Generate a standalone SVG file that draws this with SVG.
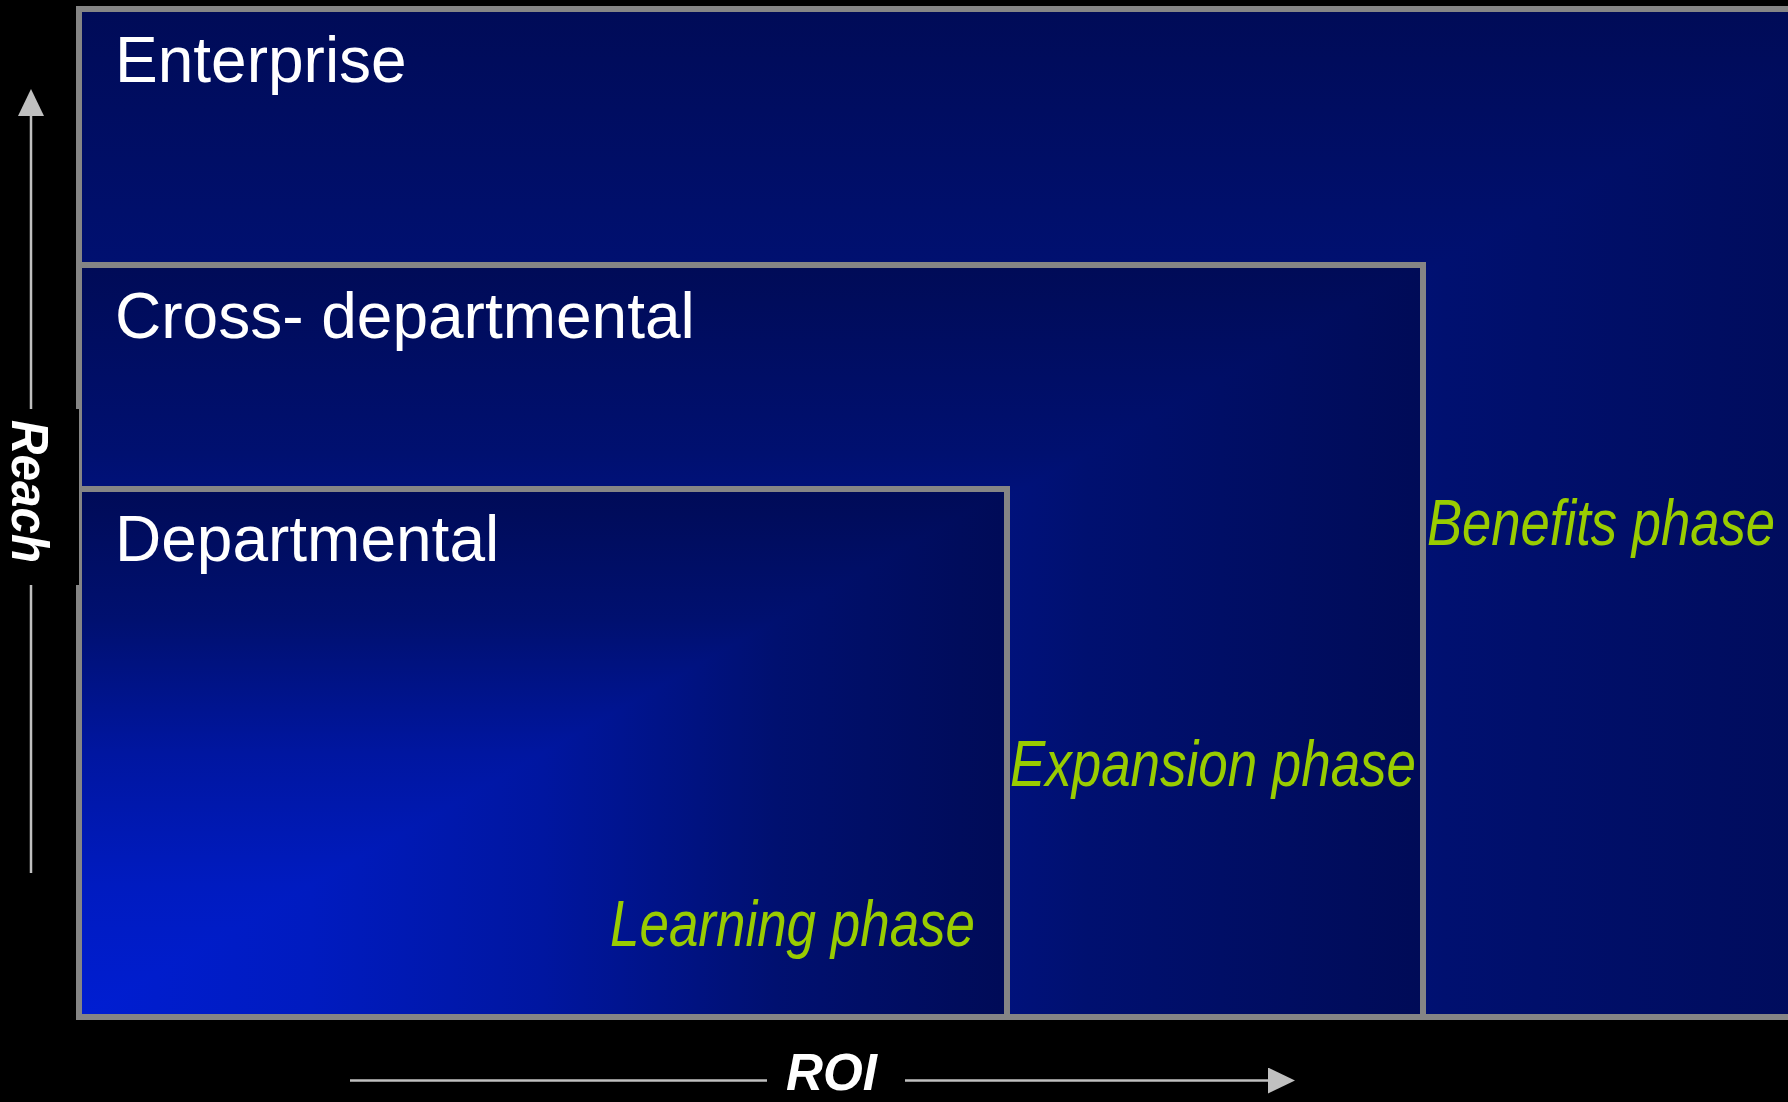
<svg xmlns="http://www.w3.org/2000/svg" width="1788" height="1102" viewBox="0 0 1788 1102">
<defs>
<style>
.frame{fill:none;stroke:#858585;stroke-width:6}
.title{font-family:"Liberation Sans",Arial,sans-serif;font-size:64px;fill:#ffffff}
.phase{font-family:"Liberation Sans",Arial,sans-serif;font-size:65px;font-style:italic;fill:#99cc00}
.axis{font-family:"Liberation Sans",Arial,sans-serif;font-size:52px;font-weight:bold;font-style:italic;fill:#ffffff}
.axisline{fill:none;stroke:#c0c0c0;stroke-width:2.5}
</style>
<linearGradient id="base">
<stop offset="0" stop-color="#001ed2"/>
<stop offset="0.25" stop-color="#001bc0"/>
<stop offset="0.5" stop-color="#0016a0"/>
<stop offset="0.75" stop-color="#001070"/>
<stop offset="1" stop-color="#000b57"/>
</linearGradient>
<linearGradient id="eV" href="#base" gradientUnits="userSpaceOnUse" x1="0" y1="1017" x2="0" y2="9"/>
<linearGradient id="eH" href="#base" gradientUnits="userSpaceOnUse" x1="79" y1="0" x2="1900" y2="0"/>
<linearGradient id="cV" href="#base" gradientUnits="userSpaceOnUse" x1="0" y1="1017" x2="0" y2="265"/>
<linearGradient id="cH" href="#base" gradientUnits="userSpaceOnUse" x1="79" y1="0" x2="1423" y2="0"/>
<linearGradient id="dV" href="#base" gradientUnits="userSpaceOnUse" x1="0" y1="1017" x2="0" y2="489"/>
<linearGradient id="dH" href="#base" gradientUnits="userSpaceOnUse" x1="79" y1="0" x2="1007" y2="0"/>
<marker id="arrow" viewBox="0 0 27 26" refX="0" refY="13" markerWidth="27" markerHeight="26" markerUnits="userSpaceOnUse" orient="auto">
<path d="M0,0 L27,13 L0,26 Z" fill="#c0c0c0"/>
</marker>
</defs>
<rect x="0" y="0" width="1788" height="1102" fill="#000000"/>

<g id="enterprise">
<rect x="79" y="9" width="1821" height="1008" fill="url(#eV)"/>
<polygon points="79,1017 1900,9 1900,1017" fill="url(#eH)"/>
<rect class="frame" x="79" y="9" width="1821" height="1008"/>
<text class="title" x="115" y="82">Enterprise</text>
<text class="phase" x="1427" y="545" textLength="348" lengthAdjust="spacingAndGlyphs">Benefits phase</text>
</g>

<g id="cross-departmental">
<rect x="79" y="265" width="1344" height="752" fill="url(#cV)"/>
<polygon points="79,1017 1423,265 1423,1017" fill="url(#cH)"/>
<rect class="frame" x="79" y="265" width="1344" height="752"/>
<text class="title" x="115" y="338">Cross- departmental</text>
<text class="phase" x="1010" y="786" textLength="406" lengthAdjust="spacingAndGlyphs">Expansion phase</text>
</g>

<g id="departmental">
<rect x="79" y="489" width="928" height="528" fill="url(#dV)"/>
<polygon points="79,1017 1007,489 1007,1017" fill="url(#dH)"/>
<rect class="frame" x="79" y="489" width="928" height="528"/>
<text class="title" x="115" y="561">Departmental</text>
<text class="phase" x="610" y="946" textLength="365" lengthAdjust="spacingAndGlyphs">Learning phase</text>
</g>

<g id="connectors">
<line class="axisline" x1="31" y1="873" x2="31" y2="585"/>
<line class="axisline" x1="31" y1="409" x2="31" y2="116" marker-end="url(#arrow)"/>
<line class="axisline" x1="350" y1="1080.5" x2="767" y2="1080.5"/>
<line class="axisline" x1="905" y1="1080.5" x2="1268" y2="1080.5" marker-end="url(#arrow)"/>
</g>

<g id="reach-label">
<rect x="0" y="409" width="79" height="176" fill="#000000"/>
<text class="axis" transform="translate(12,420) rotate(90)" x="0" y="0" textLength="143" lengthAdjust="spacingAndGlyphs">Reach</text>
</g>

<g id="roi-label">
<text class="axis" x="786" y="1090" textLength="91" lengthAdjust="spacingAndGlyphs">ROI</text>
</g>
</svg>
